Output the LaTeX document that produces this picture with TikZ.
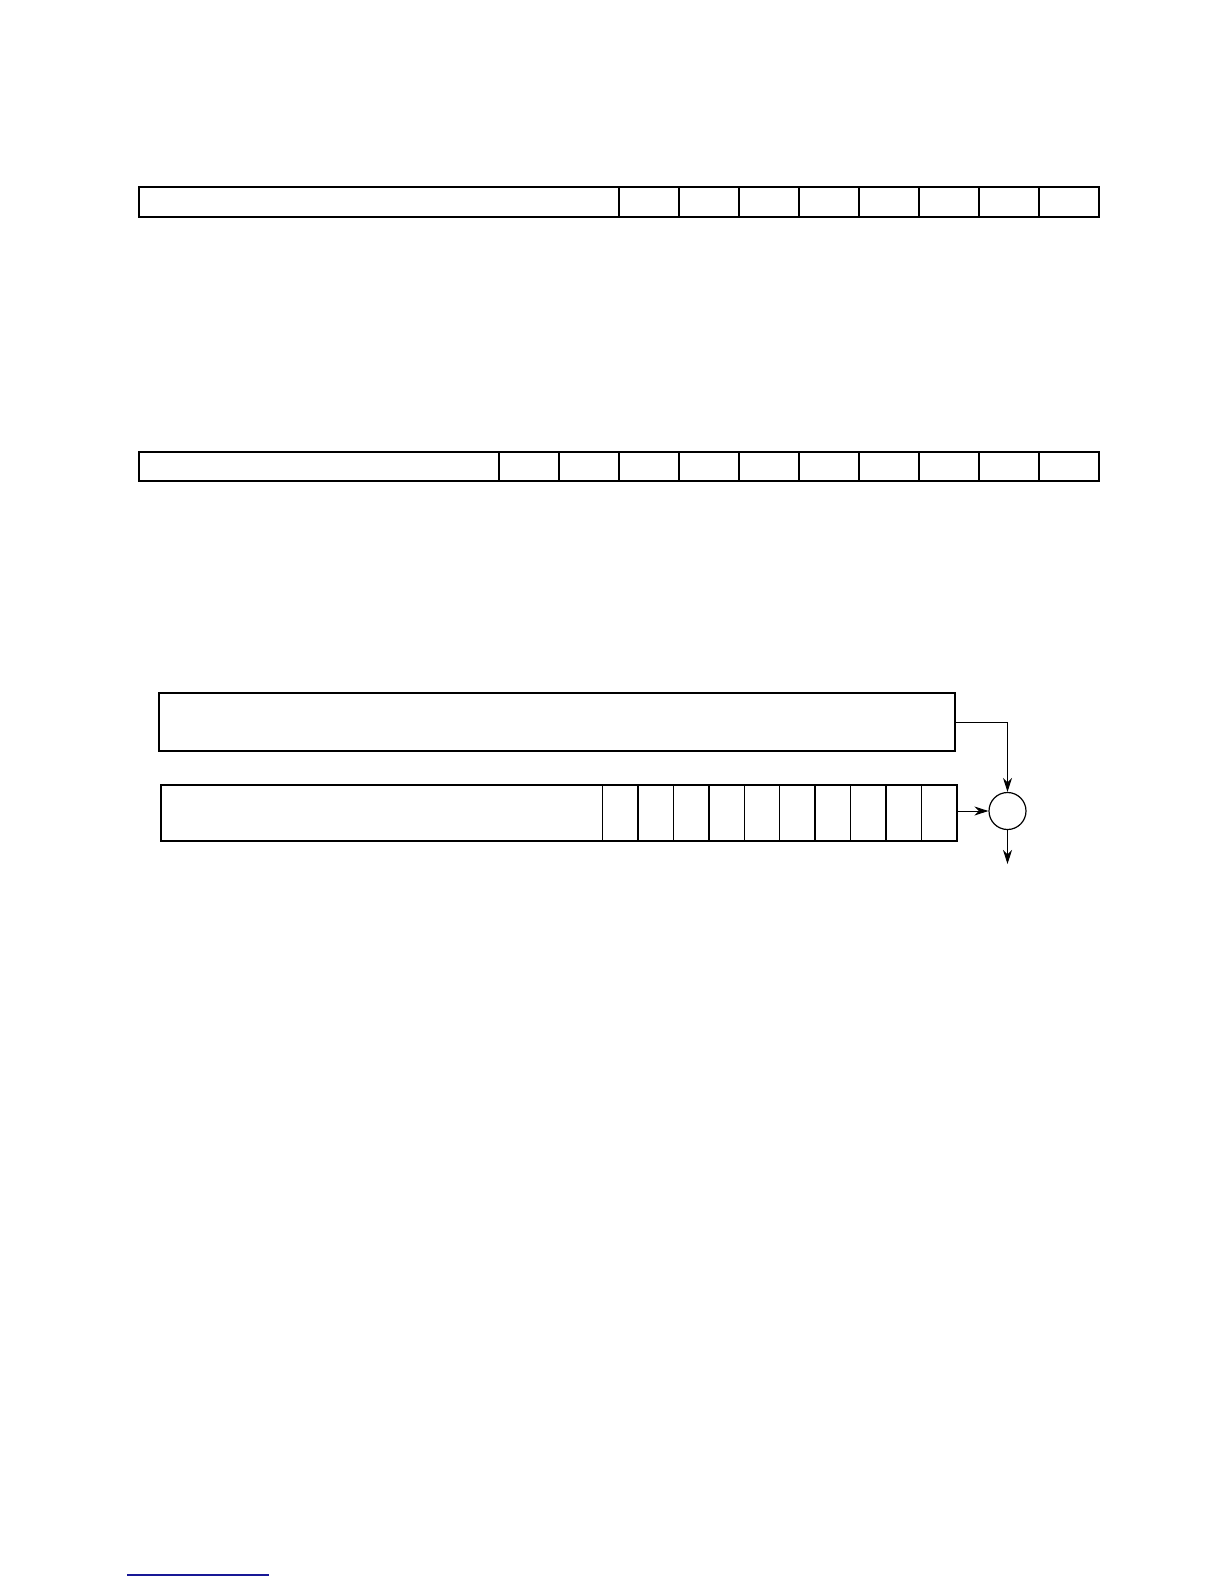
\documentclass[tikz,border=0pt]{standalone}
\usetikzlibrary{arrows.meta,positioning}
\definecolor{linkblue}{RGB}{24,24,150}
\def\pu{0.5pt}

\begin{document}
\begin{tikzpicture}[x=0.5pt,y=-0.5pt,
    field/.style = {draw, line width=0.7pt, inner sep=0pt, outer sep=0pt,
        anchor=north west, minimum height=#1},
    frame/.style = {line width=1pt},
    link/.style = {line width=0.5pt, -{Stealth[length=7pt,width=4.5pt,inset=2.2pt]}}]
\useasboundingbox (0,0) rectangle (1224,1584);
\node[field=30*\pu, minimum width=480.5*\pu] (wa) at (138.5,186.7) {};
\foreach \i in {1,...,8}
    \node[field=30*\pu, minimum width=60*\pu] (a\i) at ({559+60*\i},186.7) {};
\draw[frame] (wa.north west) rectangle (a8.south east);
\node[field=29.5*\pu, minimum width=360.5*\pu] (wb) at (138.5,451.5) {};
\foreach \i in {1,...,10}
    \node[field=29.5*\pu, minimum width=60*\pu] (b\i) at ({439+60*\i},451.5) {};
\draw[frame] (wb.north west) rectangle (b10.south east);
\node[field=57.4*\pu, minimum width=796*\pu, frame] (acc) at (159,693.3) {};
\node[field=55.7*\pu, minimum width=442*\pu] (wc) at (160.7,785.3) {};
\foreach \i in {1,...,10}
    \node[field=55.7*\pu, minimum width=35.4*\pu] (c\i) at ({567.3+35.4*\i},785.3) {};
\draw[frame] (wc.north west) rectangle (c10.south east);
\node[circle, draw, line width=0.6pt, minimum size=37*\pu, inner sep=0pt] (sum) at (1007.5,811) {};
\coordinate (out) at (1007.5,864);
\draw[link] (acc.east) -| (sum.north);
\draw[link] (c10.east |- sum.west) -- (sum.west);
\draw[link] (sum.south) -- (out);
\draw[linkblue, line width=0.6pt] (127.3,1575) -- (269,1575);
\end{tikzpicture}
\end{document}
